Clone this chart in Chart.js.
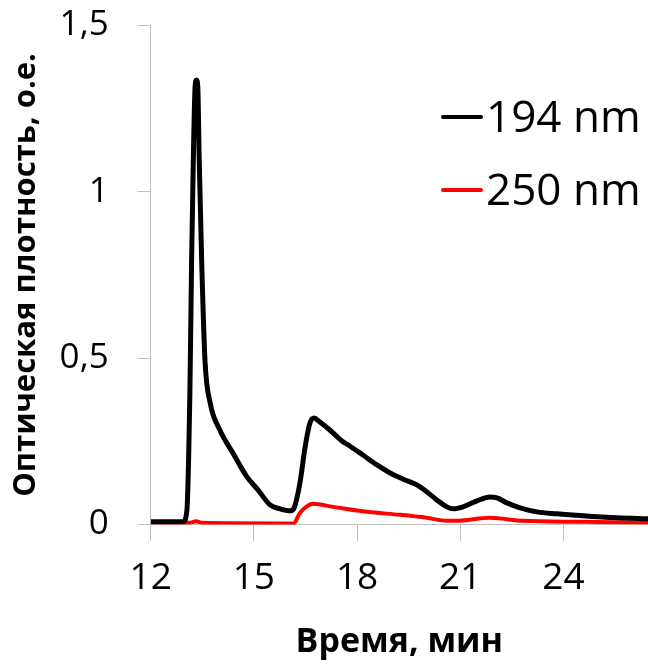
<!DOCTYPE html>
<html>
<head>
<meta charset="utf-8">
<script src="https://cdn.jsdelivr.net/npm/chart.js@4.4.1/dist/chart.umd.min.js"></script>
<style>
  html, body { margin: 0; padding: 0; background: #fff; }
  #wrap { width: 648px; height: 666px; }
</style>
</head>
<body>
<div id="wrap"><canvas id="odChart" width="648" height="666"></canvas></div>
<script>
// time, min
const time194 = [12.0, 12.94, 13.05, 13.14, 13.19, 13.24, 13.29, 13.33, 13.37, 13.41, 13.48, 13.58, 13.73, 14.01, 14.39, 14.80, 15.12, 15.47, 15.76, 16.05, 16.17, 16.34, 16.49, 16.63, 16.75, 16.92, 17.21, 17.56, 17.79, 18.17, 18.58, 18.96, 19.33, 19.74, 20.03, 20.32, 20.61, 20.79, 21.08, 21.49, 21.86, 22.07, 22.36, 22.74, 23.23, 23.81, 24.57, 25.56, 26.46];
const od194 = [0.008, 0.008, 0.04, 0.40, 0.80, 1.10, 1.315, 1.336, 1.315, 1.10, 0.80, 0.49, 0.365, 0.284, 0.215, 0.143, 0.104, 0.059, 0.047, 0.041, 0.05, 0.125, 0.233, 0.305, 0.32, 0.308, 0.284, 0.251, 0.236, 0.209, 0.179, 0.155, 0.137, 0.119, 0.098, 0.074, 0.053, 0.047, 0.053, 0.071, 0.083, 0.080, 0.065, 0.050, 0.038, 0.032, 0.026, 0.020, 0.017];

const time250 = [12.0, 13.14, 13.32, 13.49, 16.15, 16.34, 16.52, 16.72, 17.3, 18.29, 19.25, 20.03, 20.61, 20.9, 21.86, 22.82, 24.57, 26.46];
const od250 = [0.005, 0.005, 0.01, 0.005, 0.003, 0.035, 0.053, 0.062, 0.053, 0.038, 0.029, 0.02, 0.011, 0.011, 0.02, 0.011, 0.008, 0.005];

const seriesNames = ['194 nm', '250 nm'];
const xTicks = [12, 15, 18, 21, 24];
const yTicks = [0, 0.5, 1, 1.5];
const yTickLabels = ['0', '0,5', '1', '1,5'];

const toPoints = (xs, ys) => xs.map((x, i) => ({ x: x, y: ys[i] }));

// legend drawn inside the plot, top-right
const innerLegend = {
  id: 'innerLegend',
  afterDraw(chart) {
    const ctx = chart.ctx;
    const rows = [117, 190];
    ctx.save();
    chart.data.datasets.forEach((ds, i) => {
      const y = rows[i];
      ctx.strokeStyle = ds.borderColor;
      ctx.lineWidth = 4;
      ctx.lineCap = 'round';
      ctx.beginPath();
      ctx.moveTo(443, y);
      ctx.lineTo(481, y);
      ctx.stroke();
      ctx.fillStyle = '#000';
      ctx.font = '44px "Open Sans"';
      ctx.textBaseline = 'alphabetic';
      ctx.textAlign = 'left';
      ctx.fillText(ds.label, 486, y + 15);
    });
    ctx.restore();
  }
};

const axisGray = '#bfbfbf';

new Chart(document.getElementById('odChart').getContext('2d'), {
  type: 'scatter',
  data: {
    datasets: [{
      label: seriesNames[0],
      data: toPoints(time194, od194),
      showLine: true,
      borderColor: '#000000',
      borderWidth: 5,
      pointRadius: 0,
      cubicInterpolationMode: 'monotone'
    }, {
      label: seriesNames[1],
      data: toPoints(time250, od250),
      showLine: true,
      borderColor: '#ff0000',
      borderWidth: 4,
      pointRadius: 0,
      cubicInterpolationMode: 'monotone'
    }]
  },
  options: {
    responsive: false,
    animation: false,
    layout: { padding: { top: 25.5, right: 0, left: 0, bottom: 0 } },
    plugins: {
      legend: { display: false },
      tooltip: { enabled: false }
    },
    scales: {
      x: {
        type: 'linear',
        min: 12,
        max: 26.46,
        afterBuildTicks: (scale) => { scale.ticks = xTicks.map(v => ({ value: v })); },
        afterFit: (scale) => {
          scale.height = 141.5;
          scale.paddingLeft = 0;
          scale.paddingRight = 0;
        },
        ticks: { font: { family: 'Open Sans', size: 37 }, color: '#000', padding: 15, maxRotation: 0 },
        grid: { drawOnChartArea: false, color: axisGray, tickLength: 17 },
        border: { color: axisGray, width: 1 },
        title: {
          display: true,
          text: 'Время, мин',
          color: '#000',
          font: { family: 'Open Sans', size: 34, weight: 'bold' },
          padding: { top: 0, bottom: 3 }
        }
      },
      y: {
        min: 0,
        max: 1.5,
        afterBuildTicks: (scale) => { scale.ticks = yTicks.map(v => ({ value: v })); },
        afterFit: (scale) => {
          scale.width = 150.7;
          scale.paddingTop = 0;
          scale.paddingBottom = 0;
        },
        ticks: {
          font: { family: 'Open Sans', size: 35 },
          color: '#000',
          padding: 29,
          callback: (v) => yTickLabels[yTicks.indexOf(v)]
        },
        grid: { drawOnChartArea: false, color: axisGray, tickLength: 13 },
        border: { color: axisGray, width: 1 },
        title: {
          display: true,
          text: 'Оптическая плотность, о.е.',
          color: '#000',
          font: { family: 'Open Sans', size: 31, weight: 'bold' },
          padding: { top: 8, bottom: 0 }
        }
      }
    }
  },
  plugins: [innerLegend]
});
</script>
</body>
</html>
